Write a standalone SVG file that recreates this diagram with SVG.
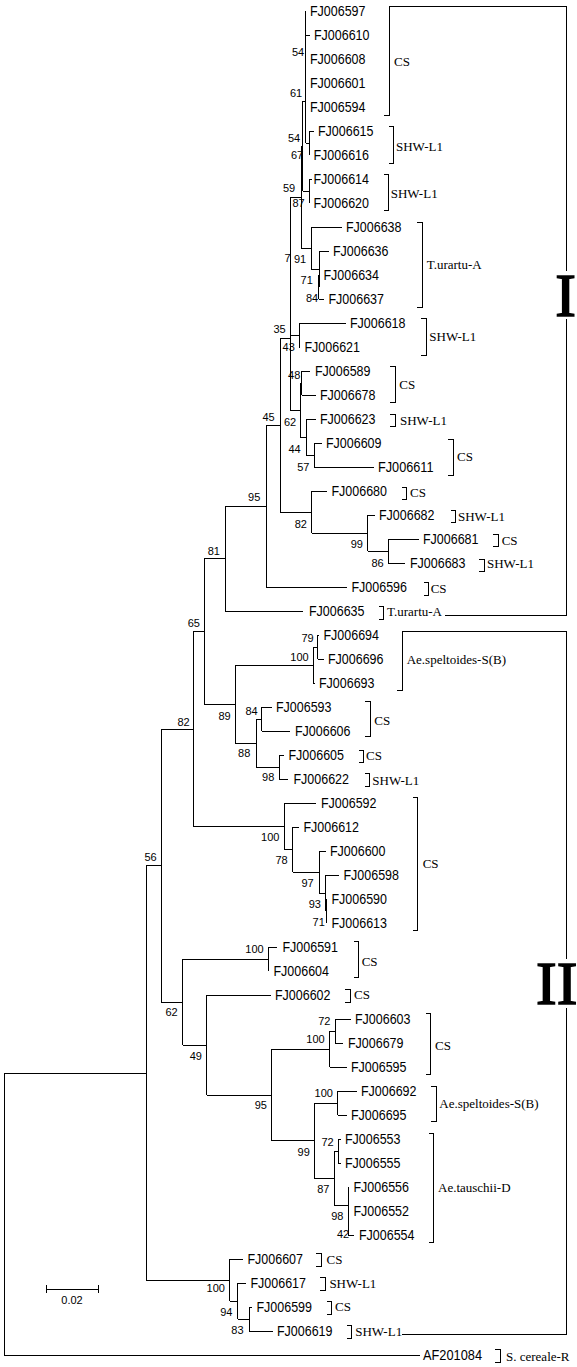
<svg xmlns="http://www.w3.org/2000/svg" width="577" height="1367" viewBox="0 0 577 1367">
<style>
.l{font-family:"Liberation Sans",Arial,sans-serif;font-size:14px;fill:#000}
.b{font-family:"Liberation Sans",Arial,sans-serif;font-size:11px;fill:#000;text-anchor:middle}
.c{font-family:"Liberation Serif","Times New Roman",serif;font-size:13px;fill:#000}
.big{font-family:"Liberation Serif","Times New Roman",serif;font-size:62px;fill:#000;stroke:#000;stroke-width:1.6;text-anchor:middle}
.ln{fill:none;stroke:#000;stroke-width:1;shape-rendering:crispEdges}
</style>
<rect width="577" height="1367" fill="#fff"/>
<g id="connectors" class="ln">
<path d="M4 1073V1355M4 1073H146M4 1355H420
M146 865V1280M146 865H161M146 1280H229.5
M229.5 1259V1301M229.5 1259H243M229.5 1301H237.5
M237.5 1283V1319M237.5 1283H245.5M237.5 1319H249
M249 1307V1331M249 1307H252M249 1331H272.5
M161 729V1002M161 729H193M161 1002H182.5
M193 631V826M193 631H204M193 826H284.5
M204 558.5V704M204 558.5H225M204 704H235
M225 506V611M225 506H266M225 611H303
M266 425V587M266 425H280M266 587H347
M280 338V512M280 338H290M280 512H311.5
M290 197V410M290 410H300
M290 197H301M290 335H299
M301 146V248M301 146H302.5M301 248H311
M302.5 101V191M302.5 101H305.5M302.5 191H309.5
M305.5 11V143M305.5 143H309.5M305.5 11H306M305.5 35H310
M309.5 131V155M309.5 131H314
M309.5 179V203M309.5 179H311.5
M311 227V269M311 227H342M311 269H319
M319 251V287M319 251H329
M318.5 275V299M318.5 299H324
M299 323V347M299 323H346M299 347H300
M300 383V437M300 383H301.5M300 437H306
M301.5 371V395M301.5 371H310M301.5 395H315.5
M306 419V455M306 419H316M306 455H314
M314 443V467M314 443H322M314 467H373.5
M311.5 491V533M311.5 491H327M311.5 533H367.5
M367.5 515V551M367.5 515H375M367.5 551H388
M388 539V563M388 539H418.5M388 563H405
M235 665V743M235 665H313M235 743H256
M313 647V683M313 647H317.5M313 683H315
M317.5 635V659M317.5 635H319M317.5 659H323.5
M256 719V767M256 719H261.5M256 767H279
M261.5 707V731M261.5 707H272M261.5 731H290
M279 755V779M279 755H284M279 779H288
M284.5 803V849.5M284.5 803H316M284.5 849.5H292.5
M292.5 827V872M292.5 827H298.5M292.5 872H319
M319 851V893M319 851H325.5M319 893H325.5
M325.5 875V911M325.5 875H338.5M325.5 911H326.5
M326.5 899V923
M182.5 959V1045M182.5 959H268.5M182.5 1045H206.5
M268.5 947V971M268.5 947H277
M206.5 995V1095M206.5 995H270.5M206.5 1095H271.5
M271.5 1049V1140.5M271.5 1049H329.5M271.5 1140.5H314
M329.5 1031V1067M329.5 1031H335M329.5 1067H346.5
M335 1019V1043M335 1019H350.5M335 1043H343
M314 1103V1178M314 1103H337.5M314 1178H334
M337.5 1091V1115M337.5 1091H356.5M337.5 1115H346.5
M334 1151V1205M334 1151H338M334 1205H348
M338 1139V1163M338 1139H341M338 1163H341
M348 1187V1235M348 1187H349M348 1235H354"/>
</g>
<g id="leaves">
<g id="t-FJ006597"><text class="l" x="310" y="16" textLength="55.5" lengthAdjust="spacingAndGlyphs">FJ006597</text></g>
<g id="t-FJ006610"><text class="l" x="314" y="40" textLength="55.5" lengthAdjust="spacingAndGlyphs">FJ006610</text></g>
<g id="t-FJ006608"><text class="l" x="310" y="64" textLength="55.5" lengthAdjust="spacingAndGlyphs">FJ006608</text></g>
<g id="t-FJ006601"><text class="l" x="310" y="88" textLength="55.5" lengthAdjust="spacingAndGlyphs">FJ006601</text></g>
<g id="t-FJ006594"><text class="l" x="310" y="112" textLength="55.5" lengthAdjust="spacingAndGlyphs">FJ006594</text></g>
<g id="t-FJ006615"><text class="l" x="318" y="136" textLength="55.5" lengthAdjust="spacingAndGlyphs">FJ006615</text></g>
<g id="t-FJ006616"><text class="l" x="313.5" y="160" textLength="55.5" lengthAdjust="spacingAndGlyphs">FJ006616</text></g>
<g id="t-FJ006614"><text class="l" x="313.5" y="184" textLength="55.5" lengthAdjust="spacingAndGlyphs">FJ006614</text></g>
<g id="t-FJ006620"><text class="l" x="313.5" y="208" textLength="55.5" lengthAdjust="spacingAndGlyphs">FJ006620</text></g>
<g id="t-FJ006638"><text class="l" x="346" y="232" textLength="55.5" lengthAdjust="spacingAndGlyphs">FJ006638</text></g>
<g id="t-FJ006636"><text class="l" x="333" y="256" textLength="55.5" lengthAdjust="spacingAndGlyphs">FJ006636</text></g>
<g id="t-FJ006634"><text class="l" x="323.5" y="280" textLength="55.5" lengthAdjust="spacingAndGlyphs">FJ006634</text></g>
<g id="t-FJ006637"><text class="l" x="328.5" y="304" textLength="55.5" lengthAdjust="spacingAndGlyphs">FJ006637</text></g>
<g id="t-FJ006618"><text class="l" x="350" y="328" textLength="55.5" lengthAdjust="spacingAndGlyphs">FJ006618</text></g>
<g id="t-FJ006621"><text class="l" x="304.5" y="352" textLength="55.5" lengthAdjust="spacingAndGlyphs">FJ006621</text></g>
<g id="t-FJ006589"><text class="l" x="315" y="376" textLength="55.5" lengthAdjust="spacingAndGlyphs">FJ006589</text></g>
<g id="t-FJ006678"><text class="l" x="320" y="400" textLength="55.5" lengthAdjust="spacingAndGlyphs">FJ006678</text></g>
<g id="t-FJ006623"><text class="l" x="320" y="424" textLength="55.5" lengthAdjust="spacingAndGlyphs">FJ006623</text></g>
<g id="t-FJ006609"><text class="l" x="326" y="448" textLength="55.5" lengthAdjust="spacingAndGlyphs">FJ006609</text></g>
<g id="t-FJ006611"><text class="l" x="378" y="472" textLength="55.5" lengthAdjust="spacingAndGlyphs">FJ006611</text></g>
<g id="t-FJ006680"><text class="l" x="331.5" y="496" textLength="55.5" lengthAdjust="spacingAndGlyphs">FJ006680</text></g>
<g id="t-FJ006682"><text class="l" x="379" y="520" textLength="55.5" lengthAdjust="spacingAndGlyphs">FJ006682</text></g>
<g id="t-FJ006681"><text class="l" x="423" y="544" textLength="55.5" lengthAdjust="spacingAndGlyphs">FJ006681</text></g>
<g id="t-FJ006683"><text class="l" x="410" y="568" textLength="55.5" lengthAdjust="spacingAndGlyphs">FJ006683</text></g>
<g id="t-FJ006596"><text class="l" x="351.5" y="592" textLength="55.5" lengthAdjust="spacingAndGlyphs">FJ006596</text></g>
<g id="t-FJ006635"><text class="l" x="309" y="616" textLength="55.5" lengthAdjust="spacingAndGlyphs">FJ006635</text></g>
<g id="t-FJ006694"><text class="l" x="323.5" y="640" textLength="55.5" lengthAdjust="spacingAndGlyphs">FJ006694</text></g>
<g id="t-FJ006696"><text class="l" x="328" y="664" textLength="55.5" lengthAdjust="spacingAndGlyphs">FJ006696</text></g>
<g id="t-FJ006693"><text class="l" x="319" y="688" textLength="55.5" lengthAdjust="spacingAndGlyphs">FJ006693</text></g>
<g id="t-FJ006593"><text class="l" x="276" y="712" textLength="55.5" lengthAdjust="spacingAndGlyphs">FJ006593</text></g>
<g id="t-FJ006606"><text class="l" x="295" y="736" textLength="55.5" lengthAdjust="spacingAndGlyphs">FJ006606</text></g>
<g id="t-FJ006605"><text class="l" x="288.5" y="760" textLength="55.5" lengthAdjust="spacingAndGlyphs">FJ006605</text></g>
<g id="t-FJ006622"><text class="l" x="293.5" y="784" textLength="55.5" lengthAdjust="spacingAndGlyphs">FJ006622</text></g>
<g id="t-FJ006592"><text class="l" x="321" y="808" textLength="55.5" lengthAdjust="spacingAndGlyphs">FJ006592</text></g>
<g id="t-FJ006612"><text class="l" x="303.5" y="832" textLength="55.5" lengthAdjust="spacingAndGlyphs">FJ006612</text></g>
<g id="t-FJ006600"><text class="l" x="330" y="856" textLength="55.5" lengthAdjust="spacingAndGlyphs">FJ006600</text></g>
<g id="t-FJ006598"><text class="l" x="343.5" y="880" textLength="55.5" lengthAdjust="spacingAndGlyphs">FJ006598</text></g>
<g id="t-FJ006590"><text class="l" x="331.5" y="904" textLength="55.5" lengthAdjust="spacingAndGlyphs">FJ006590</text></g>
<g id="t-FJ006613"><text class="l" x="331.5" y="928" textLength="55.5" lengthAdjust="spacingAndGlyphs">FJ006613</text></g>
<g id="t-FJ006591"><text class="l" x="282.5" y="952" textLength="55.5" lengthAdjust="spacingAndGlyphs">FJ006591</text></g>
<g id="t-FJ006604"><text class="l" x="273.5" y="976" textLength="55.5" lengthAdjust="spacingAndGlyphs">FJ006604</text></g>
<g id="t-FJ006602"><text class="l" x="275" y="1000" textLength="55.5" lengthAdjust="spacingAndGlyphs">FJ006602</text></g>
<g id="t-FJ006603"><text class="l" x="355" y="1024" textLength="55.5" lengthAdjust="spacingAndGlyphs">FJ006603</text></g>
<g id="t-FJ006679"><text class="l" x="348" y="1048" textLength="55.5" lengthAdjust="spacingAndGlyphs">FJ006679</text></g>
<g id="t-FJ006595"><text class="l" x="351" y="1072" textLength="55.5" lengthAdjust="spacingAndGlyphs">FJ006595</text></g>
<g id="t-FJ006692"><text class="l" x="361" y="1096" textLength="55.5" lengthAdjust="spacingAndGlyphs">FJ006692</text></g>
<g id="t-FJ006695"><text class="l" x="351" y="1120" textLength="55.5" lengthAdjust="spacingAndGlyphs">FJ006695</text></g>
<g id="t-FJ006553"><text class="l" x="345" y="1144" textLength="55.5" lengthAdjust="spacingAndGlyphs">FJ006553</text></g>
<g id="t-FJ006555"><text class="l" x="345" y="1168" textLength="55.5" lengthAdjust="spacingAndGlyphs">FJ006555</text></g>
<g id="t-FJ006556"><text class="l" x="353.5" y="1192" textLength="55.5" lengthAdjust="spacingAndGlyphs">FJ006556</text></g>
<g id="t-FJ006552"><text class="l" x="353.5" y="1216" textLength="55.5" lengthAdjust="spacingAndGlyphs">FJ006552</text></g>
<g id="t-FJ006554"><text class="l" x="359" y="1240" textLength="55.5" lengthAdjust="spacingAndGlyphs">FJ006554</text></g>
<g id="t-FJ006607"><text class="l" x="247.5" y="1264" textLength="55.5" lengthAdjust="spacingAndGlyphs">FJ006607</text></g>
<g id="t-FJ006617"><text class="l" x="250.5" y="1288" textLength="55.5" lengthAdjust="spacingAndGlyphs">FJ006617</text></g>
<g id="t-FJ006599"><text class="l" x="256.5" y="1312" textLength="55.5" lengthAdjust="spacingAndGlyphs">FJ006599</text></g>
<g id="t-FJ006619"><text class="l" x="277" y="1336" textLength="55.5" lengthAdjust="spacingAndGlyphs">FJ006619</text></g>
<g id="t-AF201084"><text class="l" x="423" y="1360" textLength="59" lengthAdjust="spacingAndGlyphs">AF201084</text></g>
</g>
<g id="bootstrap">
<g id="n54a"><text class="b" x="298" y="56">54</text></g>
<g id="n61"><text class="b" x="296" y="97">61</text></g>
<g id="n54c"><text class="b" x="294" y="142">54</text></g>
<g id="n67"><text class="b" x="297" y="158.5">67</text></g>
<g id="n59"><text class="b" x="289" y="192">59</text></g>
<g id="n87"><text class="b" x="298.5" y="207.3">87</text></g>
<g id="n7"><text class="b" x="287.5" y="262.3">7</text></g>
<g id="n91"><text class="b" x="300" y="263.3">91</text></g>
<g id="n71"><text class="b" x="306.7" y="284">71</text></g>
<g id="n84"><text class="b" x="312" y="302.3">84</text></g>
<g id="n35"><text class="b" x="279.5" y="333.3">35</text></g>
<g id="n43"><text class="b" x="288.7" y="350.7">43</text></g>
<g id="n48"><text class="b" x="294.2" y="379">48</text></g>
<g id="n62"><text class="b" x="290" y="425.7">62</text></g>
<g id="n45"><text class="b" x="268.5" y="420.7">45</text></g>
<g id="n44"><text class="b" x="294.5" y="453">44</text></g>
<g id="n57"><text class="b" x="303.3" y="471.3">57</text></g>
<g id="n95"><text class="b" x="254.2" y="501.3">95</text></g>
<g id="n82b"><text class="b" x="300.8" y="528">82</text></g>
<g id="n99"><text class="b" x="356.8" y="548.3">99</text></g>
<g id="n86"><text class="b" x="377.5" y="566.7">86</text></g>
<g id="n81"><text class="b" x="213.8" y="555">81</text></g>
<g id="n65"><text class="b" x="193.8" y="627.3">65</text></g>
<g id="n79"><text class="b" x="307.5" y="642.3">79</text></g>
<g id="n100sp"><text class="b" x="299.5" y="660.7">100</text></g>
<g id="n89"><text class="b" x="224.5" y="719.7">89</text></g>
<g id="n84b"><text class="b" x="251.5" y="714.7">84</text></g>
<g id="n88"><text class="b" x="244.2" y="757.3">88</text></g>
<g id="n82"><text class="b" x="183.5" y="725.7">82</text></g>
<g id="n98b"><text class="b" x="268.2" y="781.3">98</text></g>
<g id="n100cs"><text class="b" x="270.3" y="840.7">100</text></g>
<g id="n78"><text class="b" x="281.5" y="864">78</text></g>
<g id="n97"><text class="b" x="307.5" y="886.7">97</text></g>
<g id="n93"><text class="b" x="314.8" y="908">93</text></g>
<g id="n71b"><text class="b" x="318.7" y="925.7">71</text></g>
<g id="n56"><text class="b" x="150.5" y="860.7">56</text></g>
<g id="n100c"><text class="b" x="254.5" y="953.3">100</text></g>
<g id="n62b"><text class="b" x="171.5" y="1016.3">62</text></g>
<g id="n49"><text class="b" x="195.8" y="1060">49</text></g>
<g id="n72"><text class="b" x="324.3" y="1025">72</text></g>
<g id="n100d"><text class="b" x="315.5" y="1043.3">100</text></g>
<g id="n95c"><text class="b" x="260.8" y="1109">95</text></g>
<g id="n100e"><text class="b" x="323.7" y="1097.3">100</text></g>
<g id="n72b"><text class="b" x="327.6" y="1146">72</text></g>
<g id="n99c"><text class="b" x="303.7" y="1156">99</text></g>
<g id="n87c"><text class="b" x="323.3" y="1193">87</text></g>
<g id="n98c"><text class="b" x="337.3" y="1220">98</text></g>
<g id="n42"><text class="b" x="343" y="1238">42</text></g>
<g id="n100f"><text class="b" x="215.7" y="1292">100</text></g>
<g id="n94"><text class="b" x="226.3" y="1316">94</text></g>
<g id="n83"><text class="b" x="237.4" y="1334">83</text></g>
</g>
<g id="groups">
<g id="br1"><path class="ln" d="M384 115H389.5V6"/><text class="c" x="394" y="66">CS</text></g>
<g id="br2"><path class="ln" d="M388.5 126.5H393.5V163H388.5"/><text class="c" x="396" y="151">SHW-L1</text></g>
<g id="br3"><path class="ln" d="M383.5 174H388.5V210.5H383.5"/><text class="c" x="390.7" y="197.6">SHW-L1</text></g>
<g id="br4"><path class="ln" d="M417 222.5H422V307H417"/><text class="c" x="426.7" y="269.3">T.urartu-A</text></g>
<g id="br5"><path class="ln" d="M421 318.5H426V355H421"/><text class="c" x="429.3" y="341">SHW-L1</text></g>
<g id="br6"><path class="ln" d="M390 366.5H395V402.5H390"/><text class="c" x="399.3" y="389.3">CS</text></g>
<g id="br7"><path class="ln" d="M390 414.5H395V426.5H390"/><text class="c" x="400" y="425">SHW-L1</text></g>
<g id="br8"><path class="ln" d="M448 439H453V475H448"/><text class="c" x="457" y="461.3">CS</text></g>
<g id="br9"><path class="ln" d="M401.5 487H406.5V499H401.5"/><text class="c" x="410" y="497">CS</text></g>
<g id="br10"><path class="ln" d="M450.5 510.5H455.5V522.5H450.5"/><text class="c" x="458" y="521">SHW-L1</text></g>
<g id="br11"><path class="ln" d="M493 534.5H498V546.5H493"/><text class="c" x="501.7" y="545.3">CS</text></g>
<g id="br12"><path class="ln" d="M479 559H484V571H479"/><text class="c" x="487" y="567.6">SHW-L1</text></g>
<g id="br13"><path class="ln" d="M423.5 582.5H428.5V595H423.5"/><text class="c" x="430.7" y="593.3">CS</text></g>
<g id="br14"><path class="ln" d="M378.5 606H383.5V619H378.5"/><text class="c" x="387" y="616.3">T.urartu-A</text></g>
<g id="br15"><path class="ln" d="M397 690.5H402.5V631"/><text class="c" x="406.7" y="664.3">Ae.speltoides-S(B)</text></g>
<g id="br16"><path class="ln" d="M365 701.5H370V736.5H365"/><text class="c" x="374.3" y="725">CS</text></g>
<g id="br17"><path class="ln" d="M358.5 750H363.5V762.5H358.5"/><text class="c" x="366" y="760">CS</text></g>
<g id="br18"><path class="ln" d="M364.5 773.5H369.5V786H364.5"/><text class="c" x="372.3" y="785">SHW-L1</text></g>
<g id="br19"><path class="ln" d="M412.5 797.5H417.5V930H412.5"/><text class="c" x="422.7" y="868.3">CS</text></g>
<g id="br20"><path class="ln" d="M353.5 941.5H358.5V977.5H353.5"/><text class="c" x="361.7" y="966">CS</text></g>
<g id="br21"><path class="ln" d="M345 989.5H350V1002.5H345"/><text class="c" x="354" y="999.3">CS</text></g>
<g id="br22"><path class="ln" d="M425.5 1013.5H430.5V1074H425.5"/><text class="c" x="435" y="1050.3">CS</text></g>
<g id="br23"><path class="ln" d="M431 1086H436V1121.5H431"/><text class="c" x="439.3" y="1108.3">Ae.speltoides-S(B)</text></g>
<g id="br24"><path class="ln" d="M428.5 1133H433.5V1242.5H428.5"/><text class="c" x="438" y="1192.3">Ae.tauschii-D</text></g>
<g id="br25"><path class="ln" d="M316 1253H321V1266H316"/><text class="c" x="326.5" y="1264">CS</text></g>
<g id="br26"><path class="ln" d="M320 1277H325V1290H320"/><text class="c" x="329.4" y="1288">SHW-L1</text></g>
<g id="br27"><path class="ln" d="M326.5 1301H331.5V1314H326.5"/><text class="c" x="335" y="1311.3">CS</text></g>
<g id="br28"><path class="ln" d="M346.5 1325H351.5V1338H346.5"/><text class="c" x="355.2" y="1336">SHW-L1</text></g>
<g id="br29"><path class="ln" d="M495 1349H500V1362H495"/><text class="c" x="506" y="1361">S. cereale-R</text></g>
</g>
<g id="clade-I">
<path class="ln" d="M389.5 6H566.5V271M566.5 319V615H445"/>
<text class="big" x="565.7" y="316">I</text>
</g>
<g id="clade-II">
<path class="ln" d="M402.5 631H566.5V959M566.5 1008V1334H402"/>
<text class="big" x="556.7" y="1003.5">II</text>
</g>
<g id="scale-bar">
<path class="ln" d="M46.5 1289H98.5M46.5 1285V1293M98.5 1285V1293"/>
<text class="b" x="72" y="1304">0.02</text>
</g>
</svg>
